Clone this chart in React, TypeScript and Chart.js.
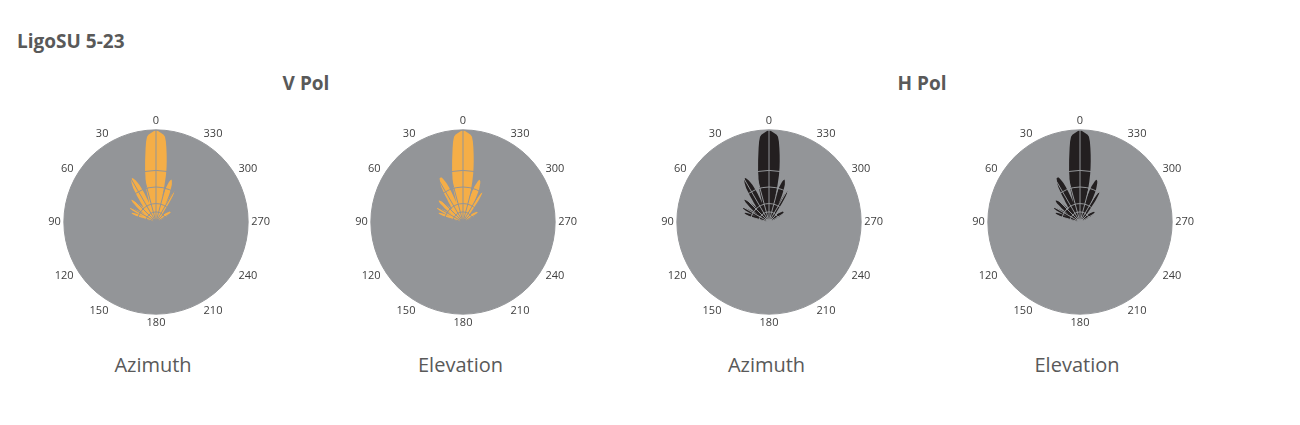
import React, { useEffect, useRef } from 'react';
import { Chart, registerables } from 'chart.js';

Chart.register(...registerables);

// Angle labels, clockwise from the top: 0, 359, 358, ... (angles grow counter-clockwise)
const angleLabels: string[] = Array.from({ length: 360 }, (_, i) => String((360 - i) % 360));
const labelStep = 30;
const angleLineStep = 15;
const ringValues = [0, 11, 20, 38, 56, 100];

// Radiation patterns (0..100 = centre..outer ring), one value per degree.
// "Left" = counter-clockwise side (labels 0,1,2,...), "Right" = clockwise side (labels 0,359,358,...)
const azimuthLeft = [
  99, 99, 98, 97, 96, 95, 93, 88, 81, 74,
  68, 62, 57, 51, 47, 42, 39, 35, 29, 24,
  22, 27, 34, 39, 44, 47, 50, 52, 54, 54,
  54, 52, 50, 47, 44, 39, 35, 30, 27, 24,
  22, 20, 21, 24, 27, 30, 33, 35, 36, 35,
  33, 30, 27, 24, 21, 18, 15, 20, 24, 27,
  30, 32, 32, 31, 28, 23, 15, 22, 26, 28,
  28, 28, 26, 23, 20, 15, 11, 7, 3, 0,
];
const azimuthRight = [
  99, 99, 98, 97, 96, 95, 93, 88, 81, 74,
  67, 60, 52, 41, 28, 33, 38, 42, 46, 48,
  49, 48, 46, 44, 40, 36, 32, 27, 22, 33,
  37, 39, 37, 33, 27, 22, 17, 14, 12, 11,
  10, 9, 9, 9, 10, 11, 12, 13, 14, 15,
  16, 17, 18, 19, 19, 19, 19, 19, 18, 17,
  16, 15, 13, 10, 7, 3, 0,
];
const elevationLeft = [
  99, 99, 98, 97, 96, 95, 93, 88, 81, 74,
  68, 62, 57, 51, 47, 42, 39, 33, 26, 22,
  28, 35, 41, 46, 49, 52, 54, 54, 54, 52,
  50, 47, 44, 39, 35, 30, 27, 24, 22, 20,
  19, 18, 20, 23, 26, 29, 32, 34, 35, 35,
  34, 32, 28, 25, 22, 19, 15, 20, 24, 27,
  30, 32, 32, 31, 28, 23, 15, 22, 26, 28,
  28, 28, 26, 23, 20, 15, 11, 7, 3, 0,
];
const elevationRight = [
  99, 99, 98, 97, 96, 95, 93, 88, 81, 74,
  67, 60, 53, 45, 36, 27, 31, 36, 41, 44,
  47, 49, 49, 48, 46, 43, 40, 36, 31, 26,
  22, 31, 36, 39, 37, 33, 28, 22, 17, 14,
  12, 11, 10, 9, 9, 10, 11, 12, 13, 14,
  15, 16, 17, 18, 19, 19, 19, 19, 18, 17,
  16, 15, 13, 10, 7, 3, 0,
];

const chartTitle = 'LigoSU 5-23';
const groupTitles = ['V Pol', 'H Pol'];
const subTitles = ['Azimuth', 'Elevation', 'Azimuth', 'Elevation'];

const ORANGE = '#F5AE47';
const BLACK = '#231F20';
const DISC = '#939598';
const TEXT = '#595959';

function buildPattern(left: number[], right: number[]): number[] {
  const arr = new Array(360).fill(0);
  right.forEach((v, i) => { arr[i] = v; });
  left.forEach((v, i) => { if (i > 0) arr[(360 - i) % 360] = v; });
  return arr;
}

const discPlugin = {
  id: 'disc',
  beforeDatasetsDraw(chart: any) {
    const s = chart.scales.r;
    const ctx = chart.ctx;
    ctx.save();
    ctx.beginPath();
    ctx.arc(s.xCenter, s.yCenter, s.drawingArea, 0, Math.PI * 2);
    ctx.fillStyle = DISC;
    ctx.fill();
    ctx.restore();
  },
};

const CW = 228;
const CH = 228;
const CX_OFF = 110;
const CY_OFF = 114;

function Polar({ left, right, color, cx, cy }: { left: number[]; right: number[]; color: string; cx: number; cy: number }) {
  const ref = useRef<HTMLCanvasElement>(null);
  useEffect(() => {
    const chart = new Chart(ref.current as HTMLCanvasElement, {
      type: 'radar',
      data: {
        labels: angleLabels,
        datasets: [{
          data: buildPattern(left, right),
          backgroundColor: color,
          borderColor: color,
          borderWidth: 0,
          pointRadius: 0,
          pointHoverRadius: 0,
          fill: true,
          tension: 0,
        }],
      },
      options: {
        responsive: false,
        animation: false,
        events: [],
        layout: { padding: 0 },
        plugins: { legend: { display: false }, tooltip: { enabled: false } },
        scales: {
          r: {
            min: 0,
            max: 100,
            afterBuildTicks: (s: any) => { s.ticks = ringValues.map((v) => ({ value: v })); },
            ticks: { display: false },
            grid: { circular: true, color: DISC, lineWidth: 1, z: 1 } as any,
            angleLines: {
              display: true,
              color: DISC,
              lineWidth: (c: any) => (c.index % angleLineStep === 0 ? 1 : 0),
            },
            pointLabels: {
              display: true,
              padding: 3,
              color: '#404040',
              font: { family: "'Open Sans'", size: 11, lineHeight: 1.1 },
              callback: (l: string) => (Number(l) % labelStep === 0 ? l : ''),
            },
          },
        },
      } as any,
      plugins: [discPlugin],
    });
    return () => chart.destroy();
  }, []);
  return (
    <canvas
      ref={ref}
      width={CW}
      height={CH}
      style={{ position: 'absolute', left: cx - CX_OFF, top: cy - CY_OFF, width: CW, height: CH }}
    />
  );
}

const centersX = [155.5, 463, 769, 1079.5];
const centerY = 222;

export default function App() {
  const patterns = [
    { left: azimuthLeft, right: azimuthRight, color: ORANGE },
    { left: elevationLeft, right: elevationRight, color: ORANGE },
    { left: azimuthLeft, right: azimuthRight, color: BLACK },
    { left: elevationLeft, right: elevationRight, color: BLACK },
  ];
  return (
    <div style={{ position: 'absolute', left: 0, top: 0, width: 1300, height: 425, background: '#fff', fontFamily: "'Open Sans', sans-serif", color: TEXT }}>
      <div style={{ position: 'absolute', left: 17, top: 32, fontSize: 19, fontWeight: 700, lineHeight: 1, whiteSpace: 'nowrap' }}>{chartTitle}</div>
      {groupTitles.map((t, i) => (
        <div key={t} style={{ position: 'absolute', left: (i === 0 ? 306 : 922) - 100, width: 200, top: 74, textAlign: 'center', fontSize: 19, fontWeight: 700, lineHeight: 1 }}>{t}</div>
      ))}
      {patterns.map((p, i) => (
        <Polar key={i} left={p.left} right={p.right} color={p.color} cx={centersX[i]} cy={centerY} />
      ))}
      {subTitles.map((t, i) => (
        <div key={i} style={{ position: 'absolute', left: centersX[i] - 2.5 - 100, width: 200, top: 355, textAlign: 'center', fontSize: 20, fontWeight: 400, lineHeight: 1 }}>{t}</div>
      ))}
    </div>
  );
}
